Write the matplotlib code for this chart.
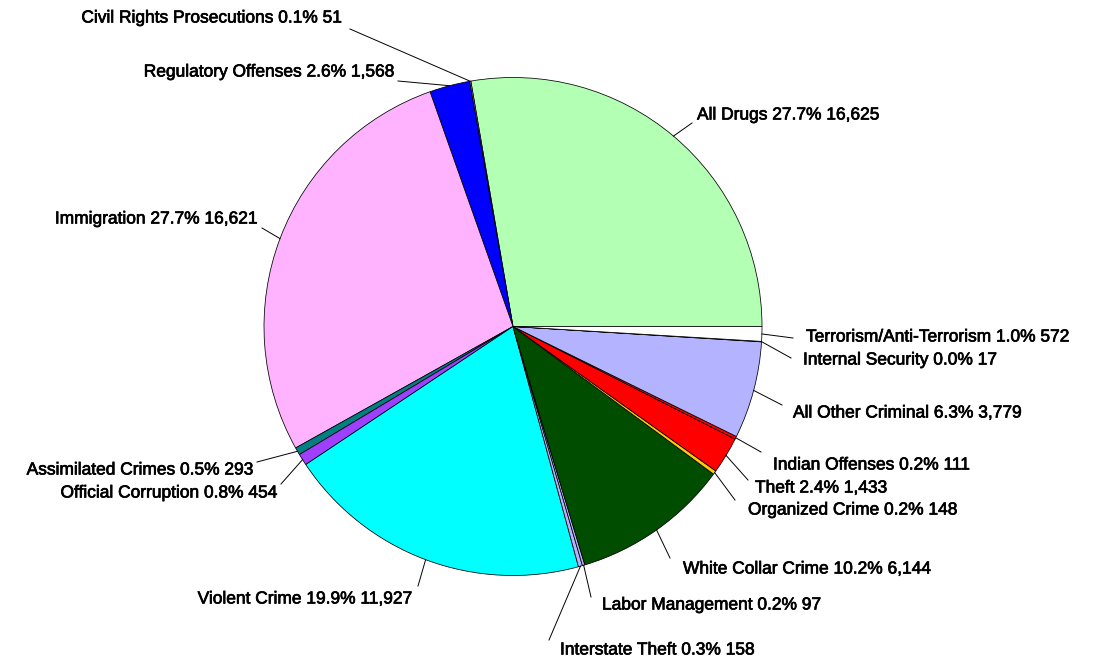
import matplotlib.pyplot as plt
import matplotlib.patheffects as pe
import numpy as np

W, H = 1100, 663

categories = [
    "All Drugs", "Civil Rights Prosecutions", "Regulatory Offenses", "Immigration",
    "Assimilated Crimes", "Official Corruption", "Violent Crime", "Interstate Theft",
    "Labor Management", "White Collar Crime", "Organized Crime", "Theft",
    "Indian Offenses", "All Other Criminal", "Internal Security", "Terrorism/Anti-Terrorism",
]
counts = [16625, 51, 1568, 16621, 293, 454, 11927, 158,
          97, 6144, 148, 1433, 111, 3779, 17, 572]
percents = ["27.7%", "0.1%", "2.6%", "27.7%", "0.5%", "0.8%", "19.9%", "0.3%",
            "0.2%", "10.2%", "0.2%", "2.4%", "0.2%", "6.3%", "0.0%", "1.0%"]
colors = ["#b3ffb3", "#b380ff", "#0000ff", "#ffb3ff", "#008080", "#a040ff", "#00ffff", "#b3b3ff",
          "#b3b3ff", "#004d00", "#ffcc00", "#ff0000", "#ff0000", "#b3b3ff", "#ffffff", "#ffffff"]

# label anchor (pixel coords from top-left), alignment, and where the leader line ends
label_pos = [
    (697, 115, "left", 692, 123),
    (343, 18, "right", 350, 29),
    (395, 72, "right", 398, 81),
    (258, 219, "right", 262, 228),
    (254, 470, "right", 257, 462),
    (278, 493, "right", 281, 484),
    (413, 599, "right", 418, 586),
    (560, 650, "left", 549, 640),
    (602, 605, "left", 591, 597),
    (683, 569, "left", 670, 558),
    (748, 510, "left", 735, 500),
    (755, 488, "left", 748, 480),
    (773, 465, "left", 761, 452),
    (793, 413, "left", 782, 405),
    (803, 360, "left", 791, 358),
    (806, 337, "left", 793, 338),
]

cx, cy, r = 513, 326.5, 249

fig = plt.figure(figsize=(11, 6.63), dpi=100)
ax = fig.add_axes([0, 0, 1, 1])

ax.pie(counts, colors=colors, startangle=0, counterclock=True,
       center=(cx, H - cy), radius=r, frame=True,
       wedgeprops=dict(edgecolor="black", linewidth=0.55))
ax.set_xlim(0, W)
ax.set_ylim(0, H)
ax.axis("off")

fracs = np.array(counts) / np.sum(counts)
mids = 360 * (np.cumsum(fracs) - fracs / 2)

heavy = [pe.withStroke(linewidth=0.5, foreground="black")]
for cat, cnt, pct, mid, (tx, ty, ha, lx, ly) in zip(categories, counts, percents, mids, label_pos):
    ex = cx + r * np.cos(np.radians(mid))
    ey = H - cy + r * np.sin(np.radians(mid))
    ax.plot([ex, lx], [ey, H - ly], color="black", linewidth=0.7)
    ax.text(tx, H - ty, f"{cat} {pct} {cnt:,}", ha=ha, va="center",
            fontsize=12.5, family="Liberation Sans", color="black", path_effects=heavy)

fig.savefig("out.png", dpi=100)
